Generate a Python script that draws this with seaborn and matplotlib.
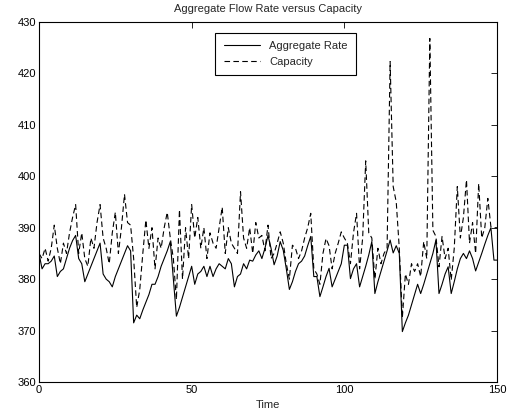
import matplotlib
matplotlib.use("Agg")
import matplotlib.pyplot as plt
import seaborn as sns
import pandas as pd
import numpy as np

time = list(range(151))

aggregate_rate = [
    385, 382, 383, 383, 383.5, 384.5, 380.5, 381.5, 382, 384,
    386, 387.5, 388.5, 384, 383, 379.5, 381, 382.5, 384, 385.5,
    387, 381, 380, 379.5, 378.5, 380.5, 382, 383.5, 385, 386.5,
    385.5, 371.5, 373, 372.3, 374, 375.5, 377, 379, 379, 380.5,
    382.5, 384, 385.5, 387.3, 380, 372.8, 374.5, 376.5, 378.5, 380.5,
    382.5, 379, 381, 381.5, 382.5, 380.5, 382.5, 380.5, 382, 383,
    382.5, 382, 384, 383, 378.5, 380.5, 381, 383, 382, 383.7,
    383.5, 384.7, 385.5, 384, 386, 388.5, 386, 382.8, 384.5, 387.3,
    385.6, 382, 378, 379.5, 381.5, 383, 383.5, 384.5, 386.5, 388.3,
    380.5, 380.5, 376.6, 378.5, 380.5, 382.1, 378.5, 380, 381.5, 383,
    386.6, 386.6, 380.1, 382, 383, 378.5, 380.5, 382.5, 384.7, 387.3,
    377.2, 379.5, 381.5, 383.5, 385.5, 387.6, 385.1, 386.5, 385, 369.8,
    371.5, 373, 375, 377, 379, 377.2, 379, 381, 383, 385,
    387.6, 377.2, 379, 381, 382.4, 377.2, 379.5, 382, 384, 385,
    384, 385.5, 384, 381.6, 383.3, 385, 386.8, 388.5, 390, 383.7,
    383.7,
]

capacity = [
    385, 384, 386, 383.5, 386, 390.5, 386, 383, 387, 385,
    389, 392, 394.5, 385, 389, 384, 382.5, 388, 386, 391,
    394.5, 388, 386, 383, 389, 393, 385, 390, 396.5, 391,
    390.5, 384, 374.5, 378, 385, 391.5, 386, 390, 382, 388,
    386, 390, 393, 388, 384, 376, 393.5, 380, 390, 384,
    394.5, 388, 392, 386, 390, 384, 389, 387, 386, 390,
    394, 385, 390, 387, 386, 385, 397, 388, 386, 390,
    385, 391, 388, 388.5, 385.5, 390.5, 384, 385, 387, 389.2,
    387, 383, 380, 386.6, 386, 384, 385.5, 388, 390, 392.8,
    382, 381, 379, 385, 387.9, 386.5, 382, 385, 387, 389.2,
    388, 387, 383, 389, 392.8, 382, 388, 403, 389, 388,
    380, 386, 383, 385, 386, 422.3, 398, 395, 386, 372.5,
    381, 379, 383, 381.5, 383, 380.5, 387.3, 384, 426.8, 389.5,
    388.3, 382.4, 388.3, 384, 386, 379.8, 386, 398, 388, 392,
    399.3, 387, 391, 385, 398.6, 388, 390, 395.7, 390.2, 390,
    390,
]

series_names = ["Aggregate Rate", "Capacity"]
title = "Aggregate Flow Rate versus Capacity"
xlabel = "Time"
xticks = [0, 50, 100, 150]
yticks = [360, 370, 380, 390, 400, 410, 420, 430]

df = pd.DataFrame({
    "Time": time * 2,
    "Value": aggregate_rate + capacity,
    "Series": [series_names[0]] * len(time) + [series_names[1]] * len(time),
})

sns.set_style("white")
plt.rcParams["font.family"] = ["Liberation Sans", "DejaVu Sans"]
plt.rcParams["font.size"] = 8

fig = plt.figure(figsize=(5.09, 4.18), dpi=100)
ax = fig.add_axes([39 / 509, 1 - 382 / 418, (497 - 39) / 509, (382 - 22) / 418])

sns.lineplot(
    data=df, x="Time", y="Value", style="Series", ax=ax,
    color="black", linewidth=0.8,
    dashes={series_names[0]: "", series_names[1]: (5, 3)},
    estimator=None, sort=False,
)

ax.set_xlim(0, 150)
ax.set_ylim(360, 430)
ax.set_xticks(xticks)
ax.set_yticks(yticks)
ax.set_xlabel(xlabel, fontsize=8, labelpad=4)
ax.set_ylabel("")
ax.set_title(title, fontsize=8, pad=7)
ax.tick_params(direction="in", length=4, width=0.6, top=True, right=True,
               labelsize=8, colors="black", pad=2)
for s in ax.spines.values():
    s.set_visible(True)
    s.set_color("black")
    s.set_linewidth(0.8)

leg = ax.legend(loc="upper right", bbox_to_anchor=((356 - 39) / 458, (382 - 33) / 360),
                frameon=True, fancybox=False, shadow=False, framealpha=1,
                edgecolor="black", fontsize=8, handlelength=3.3,
                borderpad=0.75, labelspacing=0.5, handletextpad=0.8,
                borderaxespad=0)
leg.get_frame().set_linewidth(0.8)
for line in leg.get_lines():
    line.set_linewidth(0.8)
    line.set_color("black")

fig.savefig("out.png", dpi=100)
